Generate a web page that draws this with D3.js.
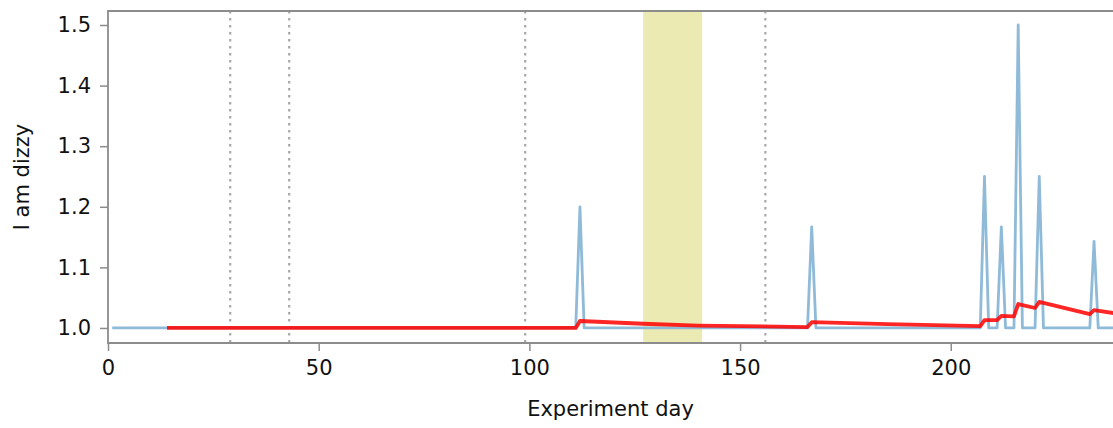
<!DOCTYPE html>
<html>
<head>
<meta charset="utf-8">
<script src="https://cdn.jsdelivr.net/npm/d3@7"></script>
<style>
  body { margin: 0; background: #fff; }
  svg { display: block; font-family: "DejaVu Sans", sans-serif; }
</style>
</head>
<body>
<svg id="chart" width="1113" height="428"></svg>
<script>
// raw daily score (blue) - vertices
const rawDays   = [1, 111, 112, 113, 166, 167, 168, 207, 208, 209, 211, 212, 213, 215, 216, 217, 220, 221, 222, 233, 234, 235, 242];
const rawValues = [1, 1, 1.2, 1, 1, 1.167, 1, 1, 1.25, 1, 1, 1.167, 1, 1, 1.5, 1, 1, 1.25, 1, 1, 1.143, 1, 1];

// smoothed score (red)
const smoothDays   = [14, 111, 112, 127, 140, 166, 167, 185, 207, 208, 211, 212, 215, 216, 220, 221, 233, 234, 242];
const smoothValues = [1, 1, 1.0115, 1.007, 1.004, 1.0015, 1.0095, 1.0062, 1.003, 1.013, 1.013, 1.02, 1.019, 1.0395, 1.033, 1.043, 1.023, 1.0295, 1.021];

const markerDays = [29, 43, 99, 156];
const bandDays = [127, 141];

const xTicks = [0, 50, 100, 150, 200];
const yTicks = [1.0, 1.1, 1.2, 1.3, 1.4, 1.5];

const svg = d3.select("#chart");
const margin = { top: 11, left: 108, bottom: 85 };
const height = 428;
const innerH = height - margin.top - margin.bottom;

const x = d3.scaleLinear().domain([0, 238.5]).range([margin.left, 1113]);
const y = d3.scaleLinear().domain([0.9752, 1.5231]).range([margin.top + innerH, margin.top]);

const axisColor = "#8c8c8c";

// shaded band
svg.append("rect")
    .attr("x", x(bandDays[0]))
    .attr("y", margin.top)
    .attr("width", x(bandDays[1]) - x(bandDays[0]))
    .attr("height", innerH)
    .attr("fill", "#eaeab2");

// dotted markers
svg.selectAll(".marker")
    .data(markerDays)
    .enter()
    .append("line")
    .attr("class", "marker")
    .attr("x1", d => x(d)).attr("x2", d => x(d))
    .attr("y1", margin.top).attr("y2", margin.top + innerH)
    .attr("stroke", "#a8a8a8")
    .attr("stroke-width", 2.2)
    .attr("stroke-dasharray", "2.5,4.5");

const line = d3.line().x(d => x(d[0])).y(d => y(d[1]));

svg.append("path")
    .datum(d3.zip(rawDays, rawValues))
    .attr("fill", "none")
    .attr("stroke", "#8fbbd9")
    .attr("stroke-width", 2.8)
    .attr("stroke-linejoin", "round")
    .attr("d", line);

svg.append("path")
    .datum(d3.zip(smoothDays, smoothValues))
    .attr("fill", "none")
    .attr("stroke", "#ff0000")
    .attr("stroke-opacity", 0.85)
    .attr("stroke-width", 3.8)
    .attr("stroke-linejoin", "round")
    .attr("d", line);

// axes
const xAxis = svg.append("g")
    .attr("transform", `translate(0,${margin.top + innerH})`)
    .call(d3.axisBottom(x).tickValues(xTicks).tickSize(8).tickPadding(9).tickFormat(d3.format("d")));

const yAxis = svg.append("g")
    .attr("transform", `translate(${margin.left},0)`)
    .call(d3.axisLeft(y).tickValues(yTicks).tickSize(8).tickPadding(9).tickFormat(d3.format(".1f")));

[xAxis, yAxis].forEach(g => {
    g.select(".domain").remove();
    g.selectAll(".tick line").attr("stroke", axisColor).attr("stroke-width", 1.5);
    g.selectAll(".tick text").attr("fill", "#111").style("font-size", "21px").style("font-family", "DejaVu Sans, sans-serif");
});

// frame (left, top, bottom)
svg.append("path")
    .attr("d", `M1113,${margin.top}H${margin.left}V${margin.top + innerH}H1113`)
    .attr("fill", "none")
    .attr("stroke", axisColor)
    .attr("stroke-width", 1.8);

svg.append("text")
    .attr("x", x(0) + (1113 - x(0)) / 2)
    .attr("y", 416)
    .attr("text-anchor", "middle")
    .attr("fill", "#111")
    .style("font-size", "21px")
    .text("Experiment day");

svg.append("text")
    .attr("transform", `translate(29,${margin.top + innerH / 2}) rotate(-90)`)
    .attr("text-anchor", "middle")
    .attr("fill", "#111")
    .style("font-size", "21px")
    .text("I am dizzy");
</script>
</body>
</html>
